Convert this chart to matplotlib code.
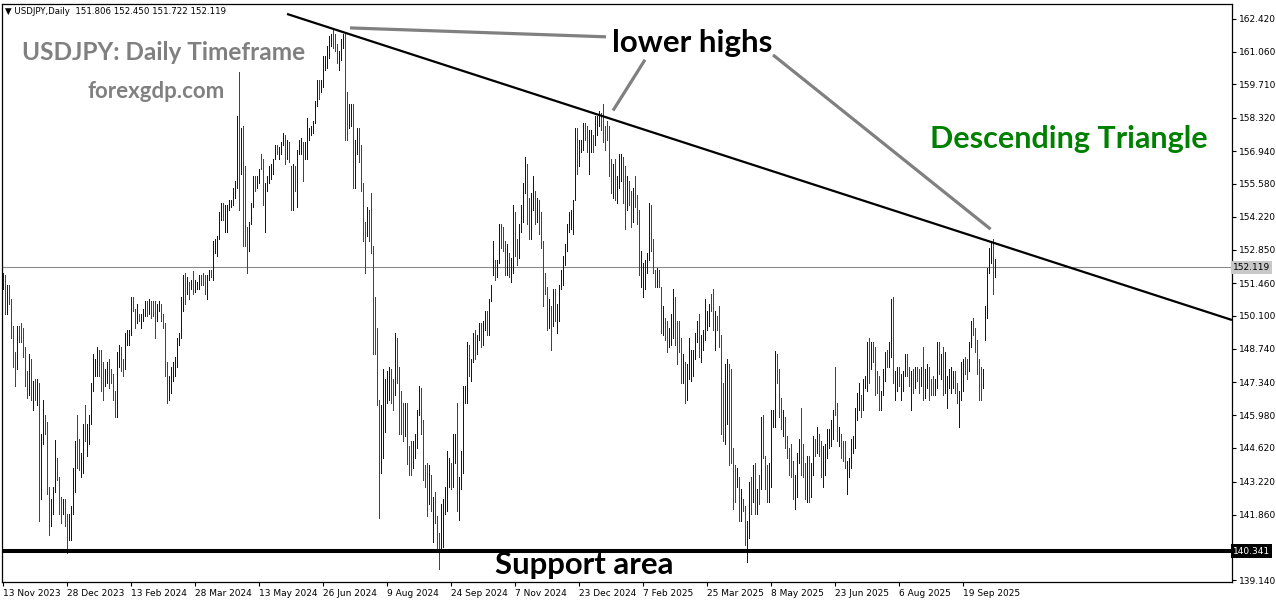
import matplotlib
matplotlib.use("Agg")
import matplotlib.pyplot as plt
import matplotlib.transforms as mtransforms

# ---------------- data (USDJPY daily bars, 13 Nov 2023 - 13 Oct 2025) ----------------
highs = [
    151.9, 151.8, 151.4, 151.4, 150.8, 149.7, 148.6, 149.7, 149.7, 149.8,
    149.6, 148.8, 147.8, 148.5, 148.3, 147.4, 147.5, 147.5, 147.3, 145.2,
    146.6, 146.0, 145.7, 143.0, 142.5, 143.0, 144.95, 144.2, 143.4, 142.6,
    142.5, 142.5, 141.9, 141.9, 142.2, 143.8, 144.9, 146.0, 145.0, 144.4,
    145.6, 146.4, 145.6, 146.0, 147.3, 148.5, 148.3, 148.8, 148.7, 148.7,
    148.2, 147.9, 148.2, 148.3, 147.9, 147.7, 147.0, 148.6, 148.9, 148.8,
    148.3, 149.4, 149.5, 149.5, 150.9, 150.9, 150.4, 150.6, 150.2, 150.2,
    150.4, 150.7, 150.7, 150.8, 150.7, 150.7, 150.7, 150.6, 150.7, 150.6,
    150.2, 149.8, 148.2, 147.6, 148.0, 148.2, 148.4, 149.2, 149.4, 150.9,
    151.8, 151.9, 151.7, 151.5, 151.6, 151.97, 151.6, 151.5, 151.8, 151.8,
    151.9, 151.8, 151.8, 152.0, 152.0, 153.2, 153.3, 153.4, 154.4, 154.8,
    154.8, 154.7, 154.7, 154.9, 154.9, 155.4, 155.7, 158.4, 160.2, 157.9,
    158.0, 156.3, 153.8, 154.0, 154.8, 155.9, 155.9, 155.9, 156.2, 156.8,
    156.6, 155.6, 155.9, 156.3, 156.4, 156.6, 157.2, 157.2, 157.1, 157.3,
    157.7, 157.6, 157.4, 157.3, 156.3, 156.4, 156.3, 157.0, 157.4, 157.5,
    157.3, 157.3, 158.3, 157.9, 158.0, 158.2, 159.0, 159.9, 159.9, 159.9,
    160.9, 160.9, 161.3, 161.7, 161.8, 161.95, 161.8, 161.4, 161.1, 161.6,
    161.8, 161.8, 159.4, 158.9, 158.9, 158.9, 157.4, 157.9, 157.9, 157.2,
    155.6, 154.0, 154.6, 154.5, 155.2, 153.0, 150.9, 149.6, 146.6, 146.4,
    147.9, 147.5, 147.8, 148.0, 147.9, 147.5, 149.4, 149.2, 148.0, 147.0,
    146.5, 146.5, 146.5, 144.7, 144.9, 144.9, 145.2, 146.2, 147.2, 147.1,
    145.8, 143.9, 144.0, 143.9, 143.5, 142.6, 142.8, 141.8, 141.1, 142.3,
    142.5, 143.0, 144.5, 144.2, 144.0, 145.2, 145.2, 146.5, 143.4, 144.5,
    147.2, 147.2, 149.0, 148.9, 148.3, 149.4, 149.5, 149.3, 149.8, 149.8,
    149.9, 150.3, 150.3, 150.8, 151.4, 153.2, 152.4, 152.4, 153.9, 153.9,
    153.8, 153.2, 153.1, 152.7, 152.5, 154.7, 154.4, 153.3, 153.9, 154.7,
    155.6, 156.7, 156.4, 155.0, 155.2, 155.9, 155.3, 155.0, 154.9, 154.4,
    153.2, 151.9, 151.3, 150.8, 150.5, 151.2, 151.2, 150.6, 151.4, 152.0,
    152.6, 153.1, 153.9, 154.4, 154.5, 154.9, 157.9, 157.9, 157.4, 157.4,
    158.1, 158.1, 158.0, 157.8, 157.8, 157.6, 158.4, 158.4, 158.6, 158.5,
    158.9, 158.0, 158.2, 158.0, 156.6, 156.4, 156.6, 155.9, 156.8, 156.8,
    156.7, 156.3, 155.9, 155.7, 155.3, 155.4, 155.9, 155.1, 154.5, 152.8,
    152.3, 152.4, 152.7, 154.8, 154.7, 153.3, 152.0, 152.1, 152.0, 151.3,
    150.5, 150.0, 149.9, 149.6, 150.2, 151.2, 150.9, 149.9, 149.9, 149.2,
    148.5, 148.2, 148.1, 149.2, 148.7, 148.7, 149.4, 149.9, 150.2, 149.3,
    149.5, 150.8, 150.3, 150.6, 151.0, 151.2, 150.3, 150.1, 150.5, 149.3,
    147.3, 148.1, 148.3, 148.1, 147.9, 144.6, 143.9, 143.8, 143.4, 142.9,
    142.5, 142.2, 141.6, 143.2, 143.4, 143.9, 144.0, 142.9, 143.5, 145.9,
    146.0, 144.3, 143.9, 144.0, 146.2, 146.2, 148.65, 148.5, 147.9, 146.7,
    146.2, 145.9, 145.1, 144.6, 144.8, 144.1, 143.5, 144.4, 145.0, 146.3,
    144.8, 144.0, 144.3, 144.3, 144.0, 145.1, 145.0, 145.5, 145.2, 144.9,
    144.7, 144.8, 145.4, 145.4, 145.8, 146.2, 148.0, 146.5, 145.5, 145.2,
    144.9, 144.9, 144.1, 144.2, 145.0, 145.1, 146.3, 146.9, 147.3, 146.8,
    147.5, 147.6, 149.0, 149.2, 149.0, 149.0, 148.8, 147.8, 147.6, 147.0,
    147.9, 148.6, 148.7, 149.0, 150.8, 150.9, 147.8, 148.0, 148.0, 147.7,
    147.8, 148.5, 148.5, 148.0, 147.8, 147.9, 148.0, 148.0, 147.9, 148.0,
    148.8, 147.9, 148.1, 148.0, 147.5, 147.6, 147.5, 149.0, 149.0, 148.5,
    148.8, 148.6, 147.6, 147.9, 148.0, 147.8, 147.8, 147.3, 147.0, 148.2,
    148.3, 148.4, 148.3, 149.0, 149.9, 150.0, 149.6, 149.1, 148.3, 148.0,
    147.9, 150.5, 152.1, 152.9, 153.2, 153.3, 152.45,
]
lows = [
    151.2, 150.2, 150.2, 150.6, 149.2, 148.0, 147.2, 147.9, 149.0, 149.0,
    148.4, 147.2, 146.7, 146.8, 146.6, 146.2, 146.6, 146.4, 141.6, 142.5,
    144.8, 145.2, 142.7, 141.0, 141.4, 141.9, 142.8, 143.3, 141.9, 141.5,
    141.9, 141.4, 140.25, 140.8, 140.8, 141.9, 142.8, 143.8, 143.7, 143.4,
    143.6, 144.9, 144.3, 144.8, 145.6, 147.0, 147.6, 147.6, 147.6, 147.0,
    146.6, 147.2, 147.3, 147.1, 147.3, 146.6, 145.9, 145.9, 148.0, 147.8,
    147.6, 147.9, 148.9, 148.9, 149.3, 150.3, 149.6, 149.8, 149.9, 149.6,
    149.9, 150.1, 150.1, 150.2, 150.0, 150.1, 149.2, 149.9, 150.3, 149.9,
    149.6, 147.6, 146.5, 146.6, 146.9, 147.4, 147.6, 148.0, 148.9, 149.2,
    150.3, 150.6, 151.0, 150.8, 151.2, 151.0, 151.1, 151.2, 151.2, 151.4,
    151.4, 151.0, 150.8, 151.6, 151.7, 151.6, 152.7, 152.6, 153.3, 154.1,
    154.1, 153.6, 153.6, 154.5, 154.6, 154.7, 155.0, 155.4, 154.5, 156.0,
    153.0, 153.0, 151.9, 152.8, 153.9, 154.6, 155.3, 155.4, 155.6, 156.2,
    154.7, 153.6, 155.3, 155.6, 155.8, 156.0, 156.6, 156.8, 156.6, 156.8,
    157.2, 156.4, 156.6, 156.5, 154.5, 154.5, 155.3, 154.6, 156.8, 156.8,
    155.7, 156.6, 156.6, 157.4, 157.6, 157.7, 158.1, 158.8, 159.1, 159.4,
    159.6, 160.3, 160.4, 160.8, 161.3, 161.2, 161.1, 160.6, 160.3, 160.7,
    161.2, 157.4, 157.4, 157.9, 158.0, 155.4, 155.4, 156.8, 156.5, 155.3,
    153.2, 151.9, 153.4, 153.2, 152.7, 148.5, 148.5, 146.4, 141.7, 143.6,
    144.2, 145.3, 146.5, 146.6, 146.5, 146.2, 146.8, 147.3, 145.2, 145.2,
    144.9, 145.1, 143.95, 143.5, 143.5, 143.8, 144.2, 144.6, 146.0, 145.2,
    143.3, 143.0, 141.8, 142.3, 142.0, 140.7, 141.5, 140.3, 139.58, 140.4,
    140.5, 141.9, 142.0, 143.0, 142.9, 143.0, 144.0, 142.0, 141.65, 142.9,
    143.6, 146.5, 146.5, 147.6, 147.4, 148.2, 148.3, 148.5, 149.1, 148.8,
    148.9, 149.5, 149.3, 149.3, 150.7, 151.8, 151.6, 151.7, 152.3, 152.9,
    152.8, 151.8, 151.8, 151.7, 151.5, 151.9, 152.6, 152.2, 152.5, 153.6,
    154.0, 155.2, 153.9, 153.3, 153.3, 154.5, 153.9, 154.0, 153.5, 152.9,
    150.5, 151.0, 149.5, 149.6, 148.7, 149.7, 149.9, 149.4, 149.9, 151.2,
    151.4, 152.2, 152.8, 153.6, 153.7, 153.5, 154.9, 156.0, 156.3, 156.9,
    157.0, 157.4, 156.9, 156.0, 156.9, 156.9, 157.2, 157.6, 158.0, 157.8,
    157.3, 157.0, 157.4, 155.9, 155.2, 155.0, 154.9, 154.8, 155.4, 155.7,
    154.8, 153.7, 154.5, 154.7, 153.8, 154.0, 154.6, 153.9, 151.8, 151.3,
    150.9, 151.2, 151.9, 152.4, 152.8, 151.9, 151.3, 151.3, 151.3, 149.4,
    149.3, 149.1, 148.6, 148.8, 148.9, 149.2, 148.9, 148.1, 148.6, 147.3,
    147.3, 146.5, 146.6, 147.5, 147.4, 147.6, 148.3, 149.0, 148.4, 148.2,
    148.7, 149.1, 149.5, 149.7, 150.3, 149.5, 148.7, 149.5, 148.8, 145.2,
    144.9, 144.8, 145.6, 143.9, 144.0, 142.1, 142.4, 143.0, 141.6, 141.6,
    142.0, 140.6, 139.9, 140.9, 141.9, 142.4, 141.9, 141.9, 142.3, 142.9,
    144.2, 142.9, 142.4, 142.4, 143.0, 145.5, 145.5, 147.3, 145.9, 145.4,
    145.1, 144.6, 144.2, 143.5, 143.4, 142.5, 142.1, 142.6, 144.0, 143.5,
    143.4, 142.5, 142.4, 142.4, 142.6, 143.5, 144.3, 144.4, 144.3, 143.4,
    143.0, 143.5, 144.2, 144.6, 144.7, 145.0, 146.0, 144.9, 144.7, 144.2,
    144.1, 143.8, 142.7, 143.4, 143.8, 144.4, 144.6, 145.8, 146.2, 145.9,
    146.2, 147.1, 147.0, 147.3, 147.9, 148.2, 146.8, 146.9, 146.2, 146.2,
    146.8, 147.4, 148.0, 148.0, 148.4, 147.3, 146.6, 147.0, 147.2, 146.6,
    147.0, 147.6, 147.6, 147.2, 146.2, 146.9, 147.1, 147.4, 146.9, 147.2,
    146.6, 146.7, 147.1, 146.6, 146.8, 146.8, 146.8, 147.1, 147.7, 147.5,
    146.8, 146.9, 146.3, 147.1, 146.9, 147.1, 146.9, 146.5, 145.5, 146.6,
    147.0, 147.7, 147.5, 147.8, 148.8, 149.3, 148.6, 147.7, 146.6, 146.6,
    147.1, 149.1, 150.0, 151.9, 152.3, 151.0, 151.72,
]
# 'u' = bullish bar (blue), 'd' = bearish bar (red); ten bars per group
directions = [
    "ududdddudd", "dddudududu", "uddduuuddd", "udduuuuddu", "uduuuuuudd",
    "duudddduud", "duuuuddudu", "uududdduud", "ddduuuuuuu", "udududuuud",
    "dduuduuuuu", "duuuuuuudu", "ddduuuduud", "duuuuuuduu", "ududduduuu",
    "duuuuuuudu", "uuuuuddduu", "udduuduudd", "dduddddddu", "uuuudduddd",
    "duddduuuud", "ddduduDDDu".lower(), "uuuuduuduu", "uuuduuduud", "uuduuuduud",
    "dduduudduu", "uudduududd", "dddududuuu", "uuuuuuuduu", "udduuduuud",
    "ddddduduuu", "dduddudddu", "uuuudddudd", "udduuudddd", "uduuuuuudu",
    "uuuudduddd", "duuddddudu", "dduudududu", "ddduuuuddd", "uddddduuud",
    "dduduududd", "uuuuuuddud", "dduuuuuuud", "uuududdddu", "uuduuduudu",
    "uuddududdu", "duuddduudu", "duuuuudduu", "udduuddddd", "uuuuudu",
]

date_labels = ["13 Nov 2023", "28 Dec 2023", "13 Feb 2024", "28 Mar 2024",
               "13 May 2024", "26 Jun 2024", "9 Aug 2024", "24 Sep 2024",
               "7 Nov 2024", "23 Dec 2024", "7 Feb 2025", "25 Mar 2025",
               "8 May 2025", "23 Jun 2025", "6 Aug 2025", "19 Sep 2025"]
date_label_bars = [0, 32, 64, 96, 128, 160, 192, 224, 256, 288, 320, 352,
                   384, 416, 448, 480]
price_ticks = [162.420, 161.060, 159.710, 158.320, 156.940, 155.580, 154.220,
               152.850, 151.460, 150.100, 148.740, 147.340, 145.980, 144.620,
               143.220, 141.860, 139.140]
current_price = 152.119
support_price = 140.341
header_ohlc = [151.806, 152.450, 151.722, 152.119]

# trendline and pointer lines (bar index, price)
trend_x = [142, 614.5]
trend_y = [162.63, 149.93]
pointer_lines = [
    ([173.5, 301.5], [162.05, 161.68]),
    ([305.0, 321.0], [158.62, 160.73]),
    ([385.0, 493.8], [160.93, 153.70]),
]

# ---------------- figure ----------------
W, H = 1276, 604
fig = plt.figure(figsize=(W / 100, H / 100), dpi=100)
fig.patch.set_facecolor("white")
ax = fig.add_axes([2 / W, 22 / H, 1230 / W, 578 / H])
ax.set_facecolor("white")

n = len(highs)
dirs = "".join(directions)[:n].ljust(n, "u")
xu = [i for i in range(n) if dirs[i] == "u"]
xd = [i for i in range(n) if dirs[i] == "d"]
ax.vlines(xu, [lows[i] for i in xu], [highs[i] for i in xu],
          colors="#0000C8", linewidth=0.72, antialiased=False, zorder=3)
ax.vlines(xd, [lows[i] for i in xd], [highs[i] for i in xd],
          colors="#E00000", linewidth=0.72, antialiased=False, zorder=3)

ax.set_xlim(-0.5, 614.5)
ax.set_ylim(139.06, 163.042)

# current price line and support
ax.axhline(current_price, color="#8a8a8a", linewidth=0.8, zorder=2)
ax.axhline(support_price, color="black", linewidth=2.9, zorder=4)

# trendline
ax.plot(trend_x, trend_y, color="black", linewidth=1.6, zorder=5,
        solid_capstyle="butt")
for px_, py_ in pointer_lines:
    ax.plot(px_, py_, color="#808080", linewidth=2.3, zorder=5,
            solid_capstyle="butt")

# annotation texts
ax.text(80.5, 160.72, "USDJPY: Daily Timeframe", color="#808080", fontsize=17.6,
        fontweight="bold", family="Lato", ha="center", va="baseline", zorder=6)
ax.text(76.5, 159.14, "forexgdp.com", color="#808080", fontsize=16,
        fontweight="bold", family="Lato", ha="center", va="baseline", zorder=6)
ax.text(344.5, 161.05, "lower highs", color="black", fontsize=22.5,
        fontweight="bold", family="Lato", ha="center", va="baseline", zorder=6)
ax.text(533, 157.07, "Descending Triangle", color="#008000", fontsize=22,
        fontweight="bold", family="Lato", ha="center", va="baseline", zorder=6)
ax.text(290.5, 139.39, "Support area", color="black", fontsize=22.4,
        fontweight="bold", family="Lato", ha="center", va="baseline", zorder=6)

# header
fig.text(5 / W, 1 - 11 / H,
         "\u25BC USDJPY,Daily  " + " ".join(f"{v:.3f}" for v in header_ohlc),
         fontsize=6.2, family="DejaVu Sans", ha="left", va="center", color="black")

# axes styling
for s in ax.spines.values():
    s.set_color("black")
    s.set_linewidth(0.9)

ax.yaxis.tick_right()
ax.set_yticks(price_ticks)
ax.set_yticklabels([f"{v:.3f}" for v in price_ticks], fontsize=6.5,
                   family="DejaVu Sans")
ax.tick_params(axis="y", direction="out", length=3, width=0.8, pad=2)

ax.set_xticks(date_label_bars)
ax.set_xticklabels(date_labels, fontsize=6.5, family="DejaVu Sans", ha="left")
ax.tick_params(axis="x", direction="out", length=3, width=0.8, pad=2)

# highlighted price labels
trans = mtransforms.blended_transform_factory(ax.transAxes, ax.transData)
ax.text(1.0008, current_price, f"{current_price:.3f}", transform=trans,
        fontsize=6.5, family="DejaVu Sans", ha="left", va="center", color="black",
        bbox=dict(boxstyle="square,pad=0.25", fc="#c8c8c8", ec="none"),
        clip_on=False, zorder=10)
ax.text(1.0008, support_price, f"{support_price:.3f}", transform=trans,
        fontsize=6.5, family="DejaVu Sans", ha="left", va="center", color="white",
        bbox=dict(boxstyle="square,pad=0.25", fc="black", ec="none"),
        clip_on=False, zorder=10)

fig.savefig("out.png", dpi=100, facecolor="white")
